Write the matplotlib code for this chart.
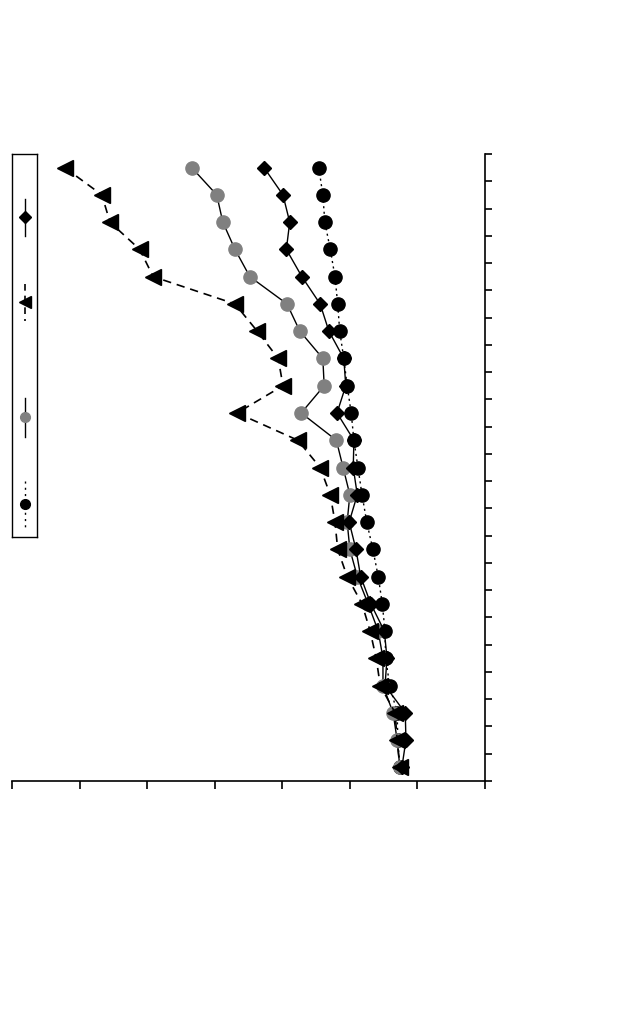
import matplotlib
matplotlib.use("Agg")
import matplotlib.pyplot as plt
import numpy as np

# 23 rows, read from the top down
rows = np.arange(23) + 0.5

diamond = [37.3, 40.1, 41.1, 40.6, 42.9, 45.6, 46.9, 49.1, 49.4, 48.1, 50.6, 50.5,
           51.1, 49.9, 50.9, 51.6, 53.1, 55.1, 55.5, 55.2, 58.2, 58.3, 57.7]
triangle = [7.8, 13.3, 14.5, 18.9, 20.9, 33.0, 36.3, 39.4, 40.1, 33.3, 42.3, 45.6,
            47.1, 47.8, 48.2, 49.6, 51.8, 53.0, 53.9, 54.5, 56.7, 57.0, 57.4]
gray_dot = [26.6, 30.3, 31.2, 33.0, 35.2, 40.7, 42.6, 46.0, 46.2, 42.8, 48.0, 49.0,
            50.0, 49.6, 50.0, 51.1, 52.7, 54.2, 54.9, 54.9, 56.4, 57.0, 57.4]
black_dot = [45.4, 46.0, 46.3, 47.1, 47.8, 48.2, 48.5, 49.1, 49.6, 50.2, 50.6, 51.2,
             51.8, 52.5, 53.4, 54.2, 54.8, 55.2, 55.3, 55.9, 57.0, 57.1, 57.4]

W, H = 626, 1020
fig = plt.figure(figsize=(W / 100, H / 100), dpi=100)
ax = fig.add_axes([12 / W, 1 - 782 / H, 473 / W, 627 / H])

ax.plot(black_dot, rows, color='k', ls=(0, (1.5, 2.5)), lw=1.0, marker='o', ms=9.5, zorder=3)
ax.plot(gray_dot, rows, color='k', lw=1.0, marker='o', ms=9.5, mfc='#808080', mec='#808080', zorder=4)
ax.plot(triangle, rows, color='k', ls=(0, (5, 3.5)), lw=1.2, marker='<', ms=11, zorder=5)
ax.plot(diamond, rows, color='k', lw=1.0, marker='D', ms=7.5, zorder=6)

ax.set_xlim(0, 70)
ax.set_ylim(23, 0)
ax.set_xticks(np.arange(0, 71, 10))
ax.set_yticks(np.arange(0, 24))
ax.tick_params(axis='x', direction='out', length=6, width=1.2, labelbottom=False)
ax.tick_params(axis='y', direction='out', length=5, width=1.2, left=False, right=True,
               labelleft=False, labelright=False)
for s in ['top', 'left']:
    ax.spines[s].set_visible(False)
for s in ['bottom', 'right']:
    ax.spines[s].set_linewidth(1.2)

# legend box with vertical line samples, no text
lg = fig.add_axes([12 / W, 1 - 538 / H, 25 / W, 383 / H])
lg.set_xlim(0, 1)
lg.set_ylim(538, 155)
lg.set_xticks([])
lg.set_yticks([])
for s in lg.spines.values():
    s.set_linewidth(1.0)
lg.plot([0.5, 0.5], [200, 237], color='k', lw=1.0)
lg.plot([0.5], [218], color='k', marker='D', ms=6)
lg.plot([0.5, 0.5], [285, 322], color='k', ls=(0, (4, 3)), lw=1.2)
lg.plot([0.5], [303], color='k', marker='<', ms=9)
lg.plot([0.5, 0.5], [399, 438], color='k', lw=1.0)
lg.plot([0.5], [418], color='#808080', marker='o', ms=7)
lg.plot([0.5, 0.5], [482, 530], color='k', ls=(0, (1.5, 3)), lw=1.0)
lg.plot([0.5], [505], color='k', marker='o', ms=7)

fig.savefig("out.png", dpi=100)
